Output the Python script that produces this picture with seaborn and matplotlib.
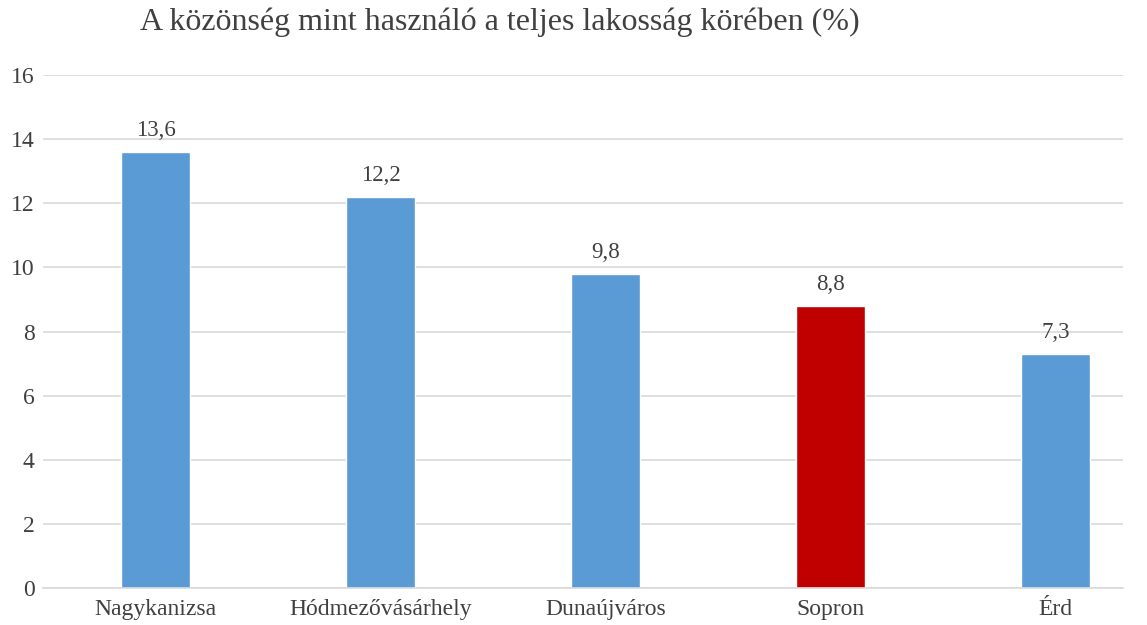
import matplotlib
matplotlib.use("Agg")
import matplotlib.pyplot as plt
import seaborn as sns
import pandas as pd

categories = ["Nagykanizsa", "Hódmezővásárhely", "Dunaújváros", "Sopron", "Érd"]
values = [13.6, 12.2, 9.8, 8.8, 7.3]
labels = ["13,6", "12,2", "9,8", "8,8", "7,3"]
bar_colors = ["#5B9BD5", "#5B9BD5", "#5B9BD5", "#C00000", "#5B9BD5"]
title = "A közönség mint használó a teljes lakosság körében (%)"
yticks = [0, 2, 4, 6, 8, 10, 12, 14, 16]

sns.set_style("white")
plt.rcParams["font.family"] = ["Liberation Serif", "DejaVu Serif"]

df = pd.DataFrame({"cat": categories, "val": values})

fig = plt.figure(figsize=(11.47, 6.25), dpi=100)
ax = fig.add_axes([0.0375, 0.0592, 0.9415, 0.8208])
sns.barplot(data=df, x="cat", y="val", hue="cat", palette=bar_colors,
            legend=False, width=0.31, ax=ax, saturation=1)
ax.set_xlim(-0.5, 4.30)
ax.set_ylim(0, 16)
ax.set_yticks(yticks)
ax.yaxis.grid(True, color="#D9D9D9", linewidth=1.2)
ax.set_axisbelow(True)
for s in ["top", "right", "left"]:
    ax.spines[s].set_visible(False)
ax.spines["bottom"].set_color("#D9D9D9")
ax.spines["bottom"].set_linewidth(1.2)
ax.tick_params(axis="both", length=0, labelsize=17, colors="#404040")
ax.tick_params(axis="y", pad=6)
ax.tick_params(axis="x", pad=8)
ax.set_xlabel("")
ax.set_ylabel("")
for i, (v, t) in enumerate(zip(values, labels)):
    ax.text(i, v + 0.35, t, ha="center", va="bottom", fontsize=16.5, color="#404040")
fig.text(0.436, 0.965, title, ha="center", va="center", fontsize=23, color="#404040")
fig.savefig("out.png", dpi=100)
